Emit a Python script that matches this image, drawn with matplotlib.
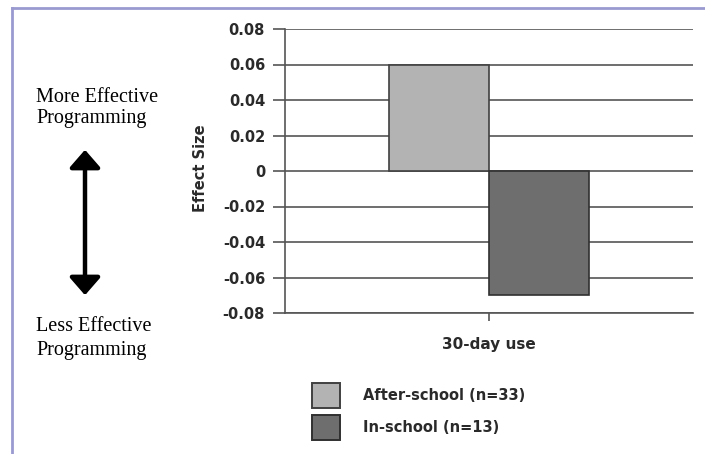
import matplotlib
matplotlib.use("Agg")
import matplotlib.pyplot as plt
from matplotlib.lines import Line2D
from matplotlib.patches import Rectangle, FancyArrowPatch

categories = ["30-day use"]
series_names = ["After-school (n=33)", "In-school (n=13)"]
after_school = [0.06]
in_school = [-0.07]
yticks = [0.08, 0.06, 0.04, 0.02, 0, -0.02, -0.04, -0.06, -0.08]
ytick_labels = ["0.08", "0.06", "0.04", "0.02", "0", "-0.02", "-0.04", "-0.06", "-0.08"]

colors = ["#b3b3b3", "#6e6e6e"]
edges = ["#404040", "#303030"]
sans = "DejaVu Sans"
tcol = "#2a2a2a"

W, H = 705, 454
fig = plt.figure(figsize=(W / 100, H / 100), dpi=100)

def fx(px):
    return px / W

def fy(py):
    return 1 - py / H

ax = fig.add_axes([fx(285), fy(313), fx(693) - fx(285), fy(29) - fy(313)])
ax.set_xlim(-0.5, 0.5)
ax.set_ylim(-0.08, 0.08)

bw = 100 / 408
x = list(range(len(categories)))
ax.bar([i - bw / 2 for i in x], after_school, width=bw, color=colors[0],
       edgecolor=edges[0], linewidth=1.2, zorder=3)
ax.bar([i + bw / 2 for i in x], in_school, width=bw, color=colors[1],
       edgecolor=edges[1], linewidth=1.2, zorder=3)

ax.set_yticks(yticks)
ax.set_yticklabels(ytick_labels, fontsize=10.5, fontweight="bold", color=tcol,
                   family=sans)
ax.yaxis.grid(True, color="#555555", linewidth=1.2, zorder=0)
ax.tick_params(axis="y", length=8.6, width=1.2, color="#555555", pad=5.8)
ax.set_xticks([0])
ax.set_xticklabels([""])
ax.tick_params(axis="x", length=6, width=1.2, color="#555555")
for s in ["top", "right"]:
    ax.spines[s].set_visible(False)
for s in ["left", "bottom"]:
    ax.spines[s].set_color("#555555")
    ax.spines[s].set_linewidth(1.2)

fig.text(fx(489), fy(345), categories[0], ha="center", va="center", fontsize=11,
         fontweight="bold", color=tcol, family=sans)
fig.text(fx(200), fy(168), "Effect Size", rotation=90, ha="center", va="center",
         fontsize=10.5, fontweight="bold", color=tcol, family=sans)

# legend (drawn manually in figure coordinates)
leg_y = [383, 415]
for name, c, ec, y0 in zip(series_names, colors, edges, leg_y):
    fig.patches.append(Rectangle((fx(312), fy(y0 + 25)), fx(340) - fx(312), fy(y0) - fy(y0 + 25),
                                 transform=fig.transFigure, facecolor=c, edgecolor=ec,
                                 linewidth=1.4))
    fig.text(fx(363), fy(y0 + 12.5), name, ha="left", va="center", fontsize=10.5,
             fontweight="bold", color=tcol, family=sans)

# left annotations
serif = {"family": "Liberation Serif", "size": 14.5, "color": "black"}
fig.text(fx(36), fy(102), "More Effective", ha="left", va="baseline", **serif)
fig.text(fx(36), fy(123), "Programming", ha="left", va="baseline", **serif)
fig.text(fx(36), fy(331), "Less Effective", ha="left", va="baseline", **serif)
fig.text(fx(36), fy(355), "Programming", ha="left", va="baseline", **serif)
arrow = FancyArrowPatch((fx(85), fy(147)), (fx(85), fy(298)), transform=fig.transFigure,
                        arrowstyle="<|-|>,head_length=5.4,head_width=4.7", linewidth=3.2,
                        color="black", mutation_scale=2.0)
fig.patches.append(arrow)

# frame lines
fig.add_artist(Line2D([fx(12), fx(12)], [fy(8), 0], transform=fig.transFigure,
                      color="#9a9ad0", linewidth=2))
fig.add_artist(Line2D([fx(12), 1], [fy(8), fy(8)], transform=fig.transFigure,
                      color="#9a9ad0", linewidth=2))

fig.savefig("out.png", dpi=100)
